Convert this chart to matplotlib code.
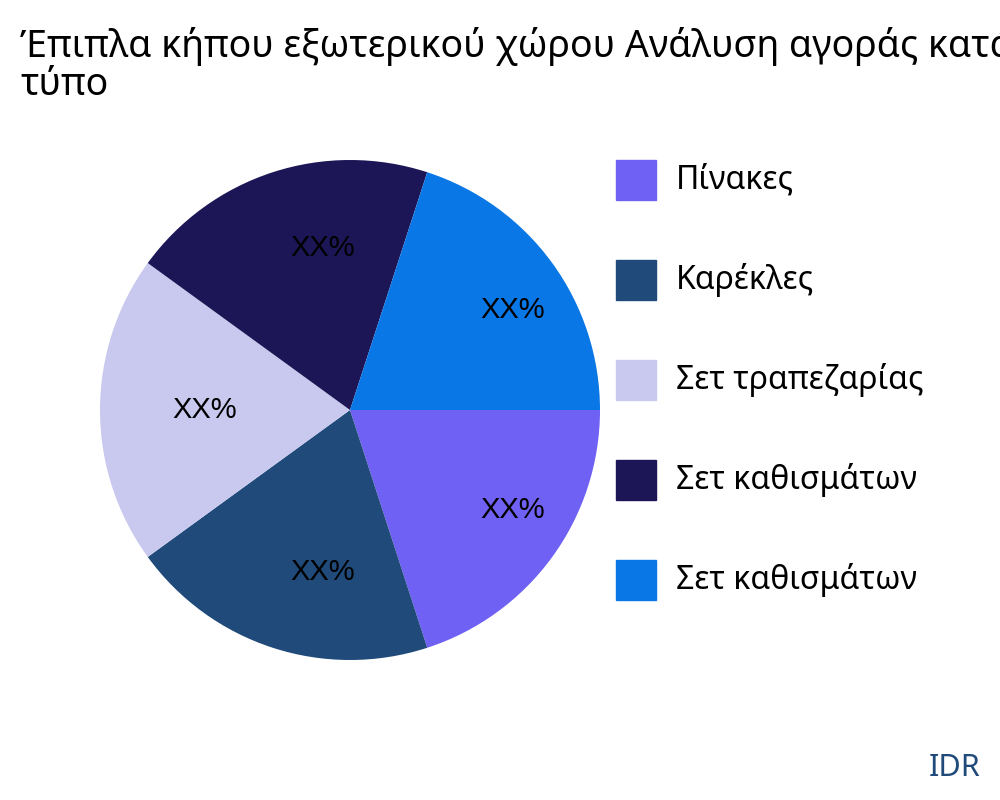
import matplotlib.pyplot as plt
from matplotlib.patches import Rectangle

labels = ['Πίνακες', 'Καρέκλες', 'Σετ τραπεζαρίας', 'Σετ καθισμάτων', 'Σετ καθισμάτων']
values = [20, 20, 20, 20, 20]
colors = ['#6F61F3', '#1F4A7A', '#C9C9F0', '#1C1656', '#0A77E6']

plt.rcParams['font.family'] = ['Noto Sans', 'DejaVu Sans']
fig = plt.figure(figsize=(10, 8), dpi=100)
ax = fig.add_axes([0.1, 0.175, 0.5, 0.625])
wedges, texts = ax.pie(values, colors=colors, startangle=0, counterclock=False,
                       labels=['XX%'] * 5, labeldistance=0.68,
                       textprops=dict(fontsize=21, family='Liberation Sans',
                                      va='center'))
for t in texts:
    x, y = t.get_position()
    t.set_ha('left')
    t.set_position((x - 0.03, y))
ax.set_xlim(-1, 1)
ax.set_ylim(-1, 1)
ax.set_aspect('equal')

# the title runs past the right edge in the original too
fig.text(0.02, 0.87, 'Έπιπλα κήπου εξωτερικού χώρου Ανάλυση αγοράς κατά\nτύπο',
         fontsize=27, va='bottom', ha='left', linespacing=1.0)

for i, (lab, col) in enumerate(zip(labels, colors)):
    y = 800 - (180 + i * 100)
    fig.add_artist(Rectangle((616 / 1000, (y - 20) / 800), 40 / 1000, 40 / 800,
                             transform=fig.transFigure, color=col))
    fig.text(676 / 1000, y / 800, lab, fontsize=23, va='center', ha='left')

fig.text(0.98, 0.04, 'IDR', fontsize=22, color='#1F4A7A', ha='right', va='center')
fig.savefig('out.png')
